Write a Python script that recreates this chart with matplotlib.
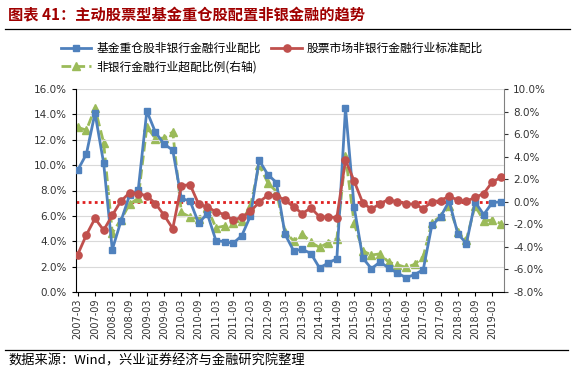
import matplotlib
matplotlib.use("Agg")
import matplotlib.pyplot as plt
from matplotlib.lines import Line2D
from matplotlib.ticker import FuncFormatter, MultipleLocator

plt.rcParams['font.family'] = ['Noto Sans CJK SC', 'DejaVu Sans']

quarters = [f"{y}-{m}" for y in range(2007, 2020) for m in ("03", "06", "09", "12")][:50]

fund_weight = [9.6, 10.87, 14.1, 10.16, 3.34, 5.58, 7.63, 8.03, 14.26, 12.58,
               11.66, 11.18, 7.37, 7.18, 5.42, 6.18, 4.05, 3.97, 3.84, 4.45,
               6.0, 10.39, 9.26, 8.63, 4.55, 3.24, 3.37, 3.03, 1.89, 2.29,
               2.63, 14.5, 6.7, 2.68, 1.84, 2.37, 1.89, 1.5, 1.13, 1.37,
               1.76, 5.26, 5.92, 7.16, 4.6, 3.82, 7.1, 6.1, 7.05, 7.1]
market_weight = [2.95, 4.5, 5.8, 4.87, 6.05, 7.16, 7.82, 7.76, 7.58, 6.97,
                 6.05, 5.0, 8.37, 8.47, 6.92, 6.71, 6.32, 6.1, 5.66, 5.9,
                 6.35, 7.08, 7.63, 7.6, 7.24, 6.71, 6.18, 6.63, 5.92, 5.92,
                 5.87, 10.4, 8.75, 7.02, 6.53, 6.97, 7.29, 7.1, 6.97, 6.92,
                 6.58, 7.1, 7.21, 7.55, 7.24, 7.16, 7.45, 7.76, 8.68, 9.03]
overweight = [6.6, 6.35, 8.3, 5.25, -2.75, -1.6, -0.2, 0.3, 6.65, 5.6,
              5.65, 6.2, -0.95, -1.35, -1.5, -0.55, -2.3, -2.15, -1.85, -1.7,
              -0.4, 3.3, 1.7, 0.9, -2.67, -3.47, -2.85, -3.6, -4.05, -3.62,
              -3.3, 4.1, -1.9, -4.36, -4.72, -4.62, -5.36, -5.58, -5.82, -5.55,
              -4.86, -1.84, -1.3, -0.4, -2.65, -3.35, -0.35, -1.68, -1.64, -1.93]

blue = '#4F81BD'
red = '#C0504D'
green = '#9BBB59'

fig = plt.figure(figsize=(5.8, 3.77), dpi=100)
ax = fig.add_axes([76/580, 1-292/377, (504-76)/580, (292-89)/377])
ax2 = ax.twinx()

x = list(range(len(quarters)))

ax2.plot(x, overweight, color=green, lw=2.0, ls=(0, (3.5, 1.5)), marker='^', ms=5.5,
         markeredgecolor=green, zorder=2)
ax2.axhline(0, color='#E02020', ls=(0, (1, 1.2)), lw=2.0, zorder=1)

ax.plot(x, fund_weight, color=blue, lw=2.0, marker='s', ms=5, zorder=3)
ax.plot(x, market_weight, color=red, lw=2.0, marker='o', ms=5.2, zorder=3)

ax.set_zorder(ax2.get_zorder() + 1)
ax.patch.set_visible(False)

ax.set_xlim(-0.2, 49.35)
ax.set_ylim(0, 16)
ax2.set_ylim(-8, 10)
ax.yaxis.set_major_locator(MultipleLocator(2))
ax2.yaxis.set_major_locator(MultipleLocator(2))
ax.yaxis.set_major_formatter(FuncFormatter(lambda v, p: f"{v:.1f}%"))
ax2.yaxis.set_major_formatter(FuncFormatter(lambda v, p: f"{v:.1f}%"))
ax.grid(axis='y', color='#D9D9D9', lw=0.8)
ax.set_axisbelow(True)

ax.set_xticks(x[::2])
ax.set_xticklabels(quarters[::2], rotation=90, fontsize=7, family='DejaVu Sans', color='#333333')
ax.tick_params(axis='x', length=3, width=0.8, pad=2, direction='out')
ax.tick_params(axis='y', length=3, labelsize=7.5, labelcolor='#333333', direction='out')
ax2.tick_params(axis='y', length=3, labelsize=7.5, labelcolor='#333333', direction='out', colors='#333333')
for t in ax.get_yticklabels() + ax2.get_yticklabels():
    t.set_family('DejaVu Sans')

for a in (ax, ax2):
    a.spines['top'].set_visible(False)
ax.spines['left'].set_color('black')
ax.spines['bottom'].set_color('black')
ax.spines['right'].set_visible(False)
ax2.spines['left'].set_visible(False)
ax2.spines['bottom'].set_visible(False)
ax2.spines['right'].set_color('#808080')

handles = [
    Line2D([], [], color=blue, lw=2.0, marker='s', ms=5),
    Line2D([], [], color=green, lw=2.0, ls=(0, (3.5, 1.5)), marker='^', ms=5.5),
    Line2D([], [], color=red, lw=2.0, marker='o', ms=5.2),
]
labels = ['基金重仓股非银行金融行业配比', '非银行金融行业超配比例(右轴)', '股票市场非银行金融行业标准配比']
fig.legend(handles, labels, ncol=2, loc='upper left', bbox_to_anchor=(56/580, 1-37/377),
           frameon=False, fontsize=8.5, handlelength=2.6, handletextpad=0.4,
           columnspacing=0.9, labelspacing=0.45, borderaxespad=0)

fig.text(8/580, 1-15/377, '图表 41：主动股票型基金重仓股配置非银金融的趋势', fontsize=11,
         fontweight='bold', color='#A00000', va='center', ha='left')
fig.add_artist(Line2D([5/580, 570/580], [1-29/377, 1-29/377], color='black', lw=0.9))
fig.add_artist(Line2D([5/580, 568/580], [1-350/377, 1-350/377], color='black', lw=0.9))
fig.text(8/580, 1-361/377, '数据来源：Wind，兴业证券经济与金融研究院整理', fontsize=9.5,
         color='black', va='center', ha='left')

fig.savefig('out.png', dpi=100)
